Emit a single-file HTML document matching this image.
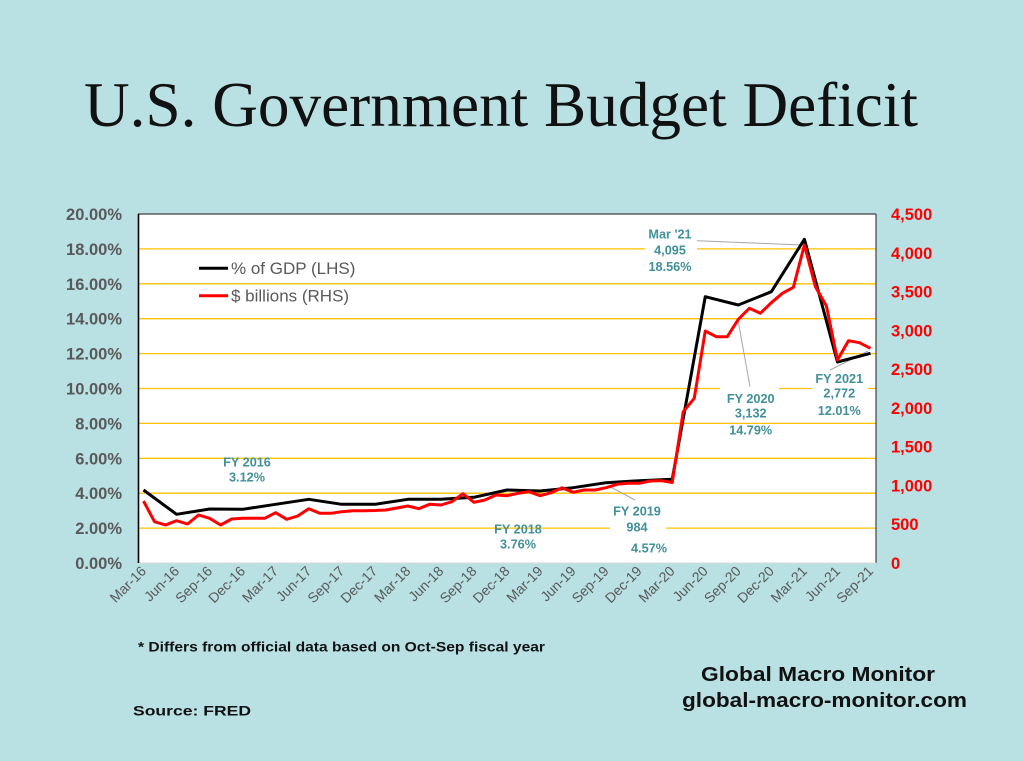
<!DOCTYPE html>
<html><head><meta charset="utf-8"><style>
html,body{margin:0;padding:0;background:#b9e0e3;}
svg{display:block;}
</style></head><body>
<svg width="1024" height="761" viewBox="0 0 1024 761" xmlns="http://www.w3.org/2000/svg">
<rect x="0" y="0" width="1024" height="761" fill="#b9e0e3"/>
<text x="84" y="126" font-family="Liberation Serif, serif" font-size="64" fill="#111" textLength="834" lengthAdjust="spacingAndGlyphs">U.S. Government Budget Deficit</text>

<!-- plot area -->
<rect x="138" y="214" width="738" height="349" fill="#ffffff"/>
<g stroke="#ffc000" stroke-width="1.3">
<line x1="138" y1="528.1" x2="876" y2="528.1"/>
<line x1="138" y1="493.2" x2="876" y2="493.2"/>
<line x1="138" y1="458.3" x2="876" y2="458.3"/>
<line x1="138" y1="423.4" x2="876" y2="423.4"/>
<line x1="138" y1="388.5" x2="876" y2="388.5"/>
<line x1="138" y1="353.6" x2="876" y2="353.6"/>
<line x1="138" y1="318.7" x2="876" y2="318.7"/>
<line x1="138" y1="283.8" x2="876" y2="283.8"/>
<line x1="138" y1="248.9" x2="876" y2="248.9"/>
</g>
<!-- label boxes hiding gridlines -->
<g fill="#ffffff">
<rect x="610" y="520" width="56" height="14"/>
<rect x="645" y="242" width="52" height="14"/>
<rect x="720" y="382" width="59" height="12"/>
<rect x="812" y="382" width="56" height="12"/>
</g>
<line x1="138" y1="214" x2="876" y2="214" stroke="#404040" stroke-width="1.2"/>
<line x1="876" y1="214" x2="876" y2="563" stroke="#404040" stroke-width="1.2"/>
<line x1="138" y1="563" x2="876" y2="563" stroke="#d9d9d9" stroke-width="1"/>
<line x1="138.5" y1="214" x2="138.5" y2="563" stroke="#000" stroke-width="1.6"/>

<!-- leader lines -->
<g stroke="#a6a6a6" stroke-width="1">
<line x1="635" y1="500" x2="610" y2="486.7"/>
<line x1="697" y1="240.7" x2="802" y2="245"/>
<line x1="750" y1="386.7" x2="738.3" y2="321.7"/>
<line x1="830" y1="370" x2="868" y2="351"/>
</g>

<!-- black series (% of GDP) -->
<polyline fill="none" stroke="#000" stroke-width="3" stroke-linejoin="round" points="143.51,490 176.55,514.3 209.60,509 242.64,509.3 275.69,504.3 308.73,499.3 341.78,504.3 374.82,504.3 407.87,499.3 440.91,499.3 473.96,497.3 507.00,490 540.05,491 573.09,487.7 606.14,482.7 639.18,480.7 672.23,479.3 705.27,296.7 738.32,305 771.36,291.7 804.41,239.3 837.45,362 870.50,353.3"/>
<!-- red series ($ billions) -->
<polyline fill="none" stroke="#ff0000" stroke-width="3" stroke-linejoin="round" points="143.51,501 154.52,521.7 165.54,525 176.55,520.7 187.57,524 198.58,515 209.60,518.3 220.61,525 231.63,519 242.64,518.3 253.66,518.3 264.67,518.3 275.69,512.7 286.70,519.3 297.72,516 308.73,508.7 319.75,513.3 330.76,513.3 341.78,511.7 352.79,510.7 363.81,510.7 374.82,510.5 385.84,510 396.85,508 407.87,506 418.88,508.7 429.90,504.2 440.91,505 451.93,501.7 462.94,493.7 473.96,502.3 484.97,500 495.99,495 507.00,495.7 518.02,493.3 529.03,491.7 540.05,495.7 551.06,492.7 562.08,487.7 573.09,492.3 584.11,490 595.12,490 606.14,487.7 617.15,484.3 628.17,483.3 639.18,483.3 650.20,481 661.21,480.7 672.23,482.5 683.24,411.7 694.26,398.3 705.27,331 716.29,336.7 727.30,336.7 738.32,319.3 749.33,308.3 760.35,313.3 771.36,302.7 782.38,293.3 793.39,287.3 804.41,245 815.42,286.7 826.44,306 837.45,360 848.47,340.7 859.48,342.7 870.50,348.3"/>

<!-- legend -->
<line x1="199" y1="268.3" x2="228" y2="268.3" stroke="#000" stroke-width="3"/>
<text x="231" y="274" font-family="Liberation Sans, sans-serif" font-size="17" fill="#595959">% of GDP (LHS)</text>
<line x1="199" y1="295.7" x2="228" y2="295.7" stroke="#ff0000" stroke-width="3"/>
<text x="231" y="301.5" font-family="Liberation Sans, sans-serif" font-size="17" fill="#595959">$ billions (RHS)</text>

<!-- annotations -->
<g font-family="Liberation Sans, sans-serif" font-size="12.7" font-weight="bold" fill="#41909a" text-anchor="middle">
<text x="247" y="466.5">FY 2016</text>
<text x="247" y="481.5">3.12%</text>
<text x="518" y="533.5">FY 2018</text>
<text x="518" y="548.5">3.76%</text>
<text x="637" y="515.5">FY 2019</text>
<text x="637" y="531.5">984</text>
<text x="649" y="552.5">4.57%</text>
<text x="670" y="238.5">Mar '21</text>
<text x="670" y="254.5">4,095</text>
<text x="670" y="271">18.56%</text>
<text x="750.7" y="403">FY 2020</text>
<text x="750.7" y="417.5">3,132</text>
<text x="750.7" y="434.5">14.79%</text>
<text x="839.3" y="383">FY 2021</text>
<text x="839.3" y="397.5">2,772</text>
<text x="839.3" y="415">12.01%</text>
</g>

<!-- left axis labels -->
<g font-family="Liberation Sans, sans-serif" font-size="16.5" font-weight="bold" fill="#595959" text-anchor="end">
<text x="122" y="569">0.00%</text>
<text x="122" y="534.1">2.00%</text>
<text x="122" y="499.2">4.00%</text>
<text x="122" y="464.3">6.00%</text>
<text x="122" y="429.4">8.00%</text>
<text x="122" y="394.5">10.00%</text>
<text x="122" y="359.6">12.00%</text>
<text x="122" y="324.7">14.00%</text>
<text x="122" y="289.8">16.00%</text>
<text x="122" y="254.9">18.00%</text>
<text x="122" y="220">20.00%</text>
</g>
<!-- right axis labels -->
<g font-family="Liberation Sans, sans-serif" font-size="16.5" font-weight="bold" fill="#ff0000" text-anchor="start">
<text x="891" y="569">0</text>
<text x="891" y="530.2">500</text>
<text x="891" y="491.4">1,000</text>
<text x="891" y="452.7">1,500</text>
<text x="891" y="413.9">2,000</text>
<text x="891" y="375.1">2,500</text>
<text x="891" y="336.3">3,000</text>
<text x="891" y="297.5">3,500</text>
<text x="891" y="258.8">4,000</text>
<text x="891" y="220">4,500</text>
</g>

<!-- x axis labels -->
<g font-family="Liberation Sans, sans-serif" font-size="14" fill="#595959" text-anchor="end">
<text transform="translate(147.0,572) rotate(-45)">Mar-16</text>
<text transform="translate(180.1,572) rotate(-45)">Jun-16</text>
<text transform="translate(213.1,572) rotate(-45)">Sep-16</text>
<text transform="translate(246.1,572) rotate(-45)">Dec-16</text>
<text transform="translate(279.2,572) rotate(-45)">Mar-17</text>
<text transform="translate(312.2,572) rotate(-45)">Jun-17</text>
<text transform="translate(345.3,572) rotate(-45)">Sep-17</text>
<text transform="translate(378.3,572) rotate(-45)">Dec-17</text>
<text transform="translate(411.4,572) rotate(-45)">Mar-18</text>
<text transform="translate(444.4,572) rotate(-45)">Jun-18</text>
<text transform="translate(477.5,572) rotate(-45)">Sep-18</text>
<text transform="translate(510.5,572) rotate(-45)">Dec-18</text>
<text transform="translate(543.6,572) rotate(-45)">Mar-19</text>
<text transform="translate(576.6,572) rotate(-45)">Jun-19</text>
<text transform="translate(609.6,572) rotate(-45)">Sep-19</text>
<text transform="translate(642.7,572) rotate(-45)">Dec-19</text>
<text transform="translate(675.7,572) rotate(-45)">Mar-20</text>
<text transform="translate(708.8,572) rotate(-45)">Jun-20</text>
<text transform="translate(741.8,572) rotate(-45)">Sep-20</text>
<text transform="translate(774.9,572) rotate(-45)">Dec-20</text>
<text transform="translate(807.9,572) rotate(-45)">Mar-21</text>
<text transform="translate(841.0,572) rotate(-45)">Jun-21</text>
<text transform="translate(874.0,572) rotate(-45)">Sep-21</text>
</g>

<!-- footer -->
<g font-family="Liberation Sans, sans-serif" font-weight="bold" fill="#111">
<text x="138" y="651.5" font-size="14" textLength="407" lengthAdjust="spacingAndGlyphs">* Differs from official data based on Oct-Sep fiscal year</text>
<text x="133" y="715.5" font-size="14" textLength="118" lengthAdjust="spacingAndGlyphs">Source:  FRED</text>
<text x="701" y="681" font-size="20" textLength="234" lengthAdjust="spacingAndGlyphs">Global Macro Monitor</text>
<text x="682" y="707" font-size="20" textLength="285" lengthAdjust="spacingAndGlyphs">global-macro-monitor.com</text>
</g>
</svg>
</body></html>
